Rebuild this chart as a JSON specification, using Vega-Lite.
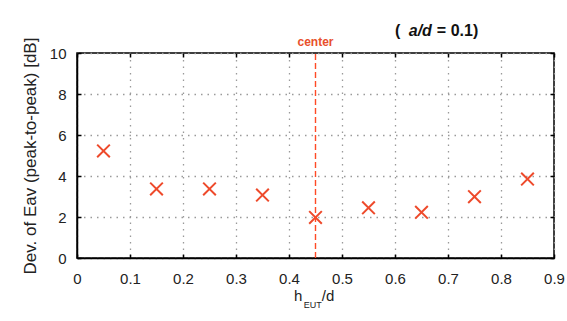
{
  "$schema": "https://vega.github.io/schema/vega-lite/v6.json",
  "width": 477,
  "height": 205,
  "autosize": {"type": "none"},
  "padding": {"left": 77, "top": 53, "right": 13, "bottom": 63},
  "background": "white",
  "data": {"values": [{}]},
  "config": {
    "font": "Liberation Sans",
    "view": {"stroke": "black", "strokeWidth": 1.5},
    "axis": {
      "domainColor": "black",
      "domainWidth": 1.5,
      "tickColor": "black",
      "tickWidth": 1.5,
      "tickSize": -4,
      "labelColor": "#222",
      "labelFont": "Liberation Sans",
      "labelFontSize": 15,
      "labelPadding": 12,
      "labelFlush": false,
      "labelOverlap": false,
      "gridColor": "#9a9a9a",
      "gridDash": [1.5, 5],
      "gridWidth": 1.3,
      "titleFont": "Liberation Sans",
      "titleFontWeight": "normal",
      "titleColor": "#222"
    }
  },
  "datasets": {
    "pts": [
      {"h": 0.05, "dev": 5.22},
      {"h": 0.15, "dev": 3.37},
      {"h": 0.25, "dev": 3.37},
      {"h": 0.35, "dev": 3.07},
      {"h": 0.45, "dev": 1.98},
      {"h": 0.55, "dev": 2.45},
      {"h": 0.65, "dev": 2.23},
      {"h": 0.75, "dev": 2.99},
      {"h": 0.85, "dev": 3.85}
    ]
  },
  "layer": [
    {
      "data": {"name": "pts"},
      "mark": {"type": "point", "shape": "M-1,-1L1,1M1,-1L-1,1", "filled": false, "stroke": "#ee4a2b", "strokeWidth": 2, "size": 160, "opacity": 1},
      "encoding": {
        "x": {"field": "h", "type": "quantitative",
              "scale": {"domain": [0, 0.9], "nice": false, "zero": false},
              "axis": {"orient": "bottom", "values": [0,0.1,0.2,0.3,0.4,0.5,0.6,0.7,0.8,0.9], "format": "~g", "title": null, "grid": true, "labelPadding": 17}},
        "y": {"field": "dev", "type": "quantitative",
              "scale": {"domain": [0, 10], "nice": false},
              "axis": {"orient": "left", "values": [0,2,4,6,8,10], "title": "Dev. of Eav (peak-to-peak) [dB]", "titleFontSize": 17, "titlePadding": 10, "grid": true, "labelPadding": 15}}
      }
    },
    {
      "mark": {"type": "rule", "stroke": "#ff4a26", "strokeDash": [6, 3], "strokeWidth": 1.4, "opacity": 1},
      "encoding": {
        "x": {"datum": 0.45, "type": "quantitative",
              "axis": {"orient": "top", "values": [0,0.1,0.2,0.3,0.4,0.5,0.6,0.7,0.8,0.9], "labels": false, "title": null, "grid": false, "domain": false}},
        "y": {"datum": 0, "type": "quantitative",
              "axis": {"orient": "right", "values": [0,2,4,6,8,10], "labels": false, "title": null, "grid": false, "domain": false}},
        "y2": {"datum": 10}
      }
    },
    {
      "mark": {"type": "text", "text": "center", "fontSize": 12, "fontWeight": "bold", "color": "#e8502c", "align": "center", "baseline": "middle", "clip": false},
      "encoding": {"x": {"datum": 0.45, "axis": null}, "y": {"datum": 10.54, "axis": null}}
    },
    {
      "mark": {"type": "text", "text": "(", "fontSize": 16, "fontWeight": "bold", "color": "#111", "align": "left", "baseline": "middle"},
      "encoding": {"x": {"datum": 0.6, "axis": null}, "y": {"datum": 11.07, "axis": null}}
    },
    {
      "mark": {"type": "text", "text": "a/d", "fontSize": 16, "fontWeight": "bold", "fontStyle": "italic", "color": "#111", "align": "left", "baseline": "middle"},
      "encoding": {"x": {"datum": 0.626, "axis": null}, "y": {"datum": 11.07, "axis": null}}
    },
    {
      "mark": {"type": "text", "text": "= 0.1)", "fontSize": 16, "fontWeight": "bold", "color": "#111", "align": "left", "baseline": "middle"},
      "encoding": {"x": {"datum": 0.679, "axis": null}, "y": {"datum": 11.07, "axis": null}}
    },
    {
      "mark": {"type": "text", "text": "h", "fontSize": 15, "color": "#222", "align": "left", "baseline": "middle"},
      "encoding": {"x": {"datum": 0.4094, "axis": null}, "y": {"datum": -1.85, "axis": null}}
    },
    {
      "mark": {"type": "text", "text": "EUT", "fontSize": 9, "color": "#222", "align": "left", "baseline": "middle"},
      "encoding": {"x": {"datum": 0.428, "axis": null}, "y": {"datum": -2.3, "axis": null}}
    },
    {
      "mark": {"type": "text", "text": "/d", "fontSize": 15, "color": "#222", "align": "left", "baseline": "middle"},
      "encoding": {"x": {"datum": 0.462, "axis": null}, "y": {"datum": -1.85, "axis": null}}
    }
  ]
}
